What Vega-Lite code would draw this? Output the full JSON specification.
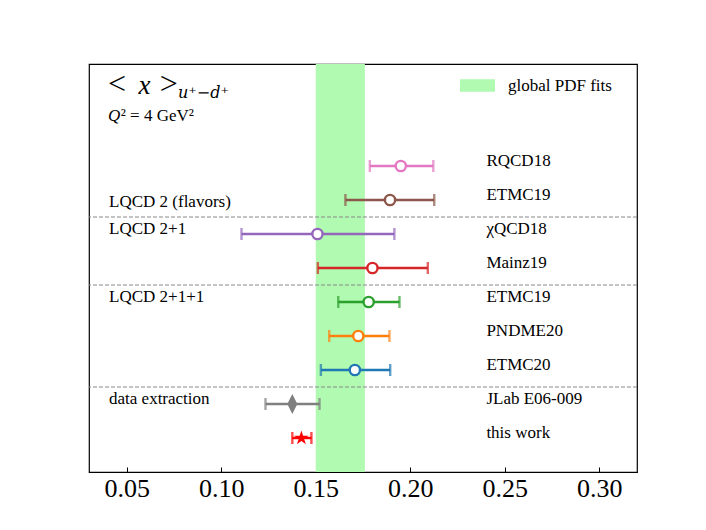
{
  "$schema": "https://vega.github.io/schema/vega-lite/v6.json",
  "width": 548,
  "height": 408,
  "padding": {"left": 88, "top": 64, "right": 70, "bottom": 10},
  "background": "white",
  "config": {
    "font": "Liberation Serif",
    "view": {"stroke": "black", "strokeWidth": 1.2},
    "axis": {
      "labelFont": "Liberation Serif",
      "labelFontSize": 26,
      "labelColor": "black",
      "domainColor": "black",
      "domainWidth": 1.2,
      "tickColor": "black",
      "tickWidth": 1,
      "tickSize": -5,
      "labelPadding": 8,
      "grid": false
    },
    "text": {"font": "Liberation Serif", "color": "black", "baseline": "alphabetic", "align": "left"}
  },
  "datasets": {
    "results": [
      {"row": 3, "label": "RQCD18", "value": 0.1950, "lo": 0.1786, "hi": 0.2122},
      {"row": 4, "label": "ETMC19", "value": 0.1893, "lo": 0.1657, "hi": 0.2127},
      {"row": 5, "label": "χQCD18", "value": 0.1509, "lo": 0.1107, "hi": 0.1916},
      {"row": 6, "label": "Mainz19", "value": 0.1800, "lo": 0.1511, "hi": 0.2093},
      {"row": 7, "label": "ETMC19", "value": 0.1780, "lo": 0.1619, "hi": 0.1943},
      {"row": 8, "label": "PNDME20", "value": 0.1725, "lo": 0.1571, "hi": 0.1890},
      {"row": 9, "label": "ETMC20", "value": 0.1707, "lo": 0.1527, "hi": 0.1894},
      {"row": 10, "label": "JLab E06-009", "value": 0.1376, "lo": 0.1234, "hi": 0.1520},
      {"row": 11, "label": "this work", "value": 0.1424, "lo": 0.1376, "hi": 0.1477}
    ],
    "separators": [{"row": 4.5}, {"row": 6.5}, {"row": 9.5}],
    "band": [{"lo": 0.150, "hi": 0.176, "label": "global PDF fits"}],
    "groups": [
      {"label": "LQCD 2 (flavors)", "row": 4.2},
      {"label": "LQCD 2+1", "row": 5},
      {"label": "LQCD 2+1+1", "row": 7},
      {"label": "data extraction", "row": 10}
    ]
  },
  "layer": [
    {
      "data": {"name": "band"},
      "mark": {"type": "rect"},
      "encoding": {
        "x": {"field": "lo", "type": "quantitative", "scale": {"domain": [0.03, 0.32], "nice": false, "zero": false}, "axis": {"values": [0.05, 0.10, 0.15, 0.20, 0.25, 0.30], "format": ".2f", "title": null}},
        "x2": {"field": "hi"},
        "fill": {"field": "label", "type": "nominal", "scale": {"range": ["#b1fab1"]},
          "legend": {"title": null, "orient": "none", "legendX": 376, "legendY": 9, "padding": 0,
            "symbolType": "M-1.4,-0.5H1.4V0.5H-1.4Z", "symbolSize": 625, "symbolStrokeWidth": 0, "symbolOpacity": 1,
            "labelFont": "Liberation Serif", "labelFontSize": 17, "labelColor": "black", "labelOffset": 18}}
      }
    },
    {
      "data": {"name": "separators"},
      "mark": {"type": "rule", "color": "#888888", "strokeWidth": 1, "strokeDash": [4, 2]},
      "encoding": {
        "y": {"field": "row", "type": "quantitative", "scale": {"domain": [0, 12], "reverse": true, "nice": false, "zero": false}, "axis": null}
      }
    },
    {
      "data": {"name": "results"},
      "mark": {"type": "rule", "strokeWidth": 2.4},
      "encoding": {
        "x": {"field": "lo", "type": "quantitative", "axis": {"values": [0.05, 0.10, 0.15, 0.20, 0.25, 0.30], "format": ".2f", "title": null}},
        "x2": {"field": "hi"},
        "y": {"field": "row", "type": "quantitative", "axis": null},
        "color": {"field": "row", "type": "ordinal", "scale": {"domain": [3, 4, 5, 6, 7, 8, 9, 10, 11], "range": ["#e377c2", "#8c564b", "#9467bd", "#d62728", "#2ca02c", "#ff7f0e", "#1f77b4", "#7f7f7f", "#ff0000"]}, "legend": null}
      }
    },
    {
      "data": {"name": "results"},
      "mark": {"type": "tick", "orient": "vertical", "size": 12, "thickness": 2.4},
      "encoding": {
        "x": {"field": "lo", "type": "quantitative", "axis": {"values": [0.05, 0.10, 0.15, 0.20, 0.25, 0.30], "format": ".2f", "title": null}},
        "y": {"field": "row", "type": "quantitative", "axis": null},
        "color": {"field": "row", "type": "ordinal", "legend": null}
      }
    },
    {
      "data": {"name": "results"},
      "mark": {"type": "tick", "orient": "vertical", "size": 12, "thickness": 2.4},
      "encoding": {
        "x": {"field": "hi", "type": "quantitative", "axis": {"values": [0.05, 0.10, 0.15, 0.20, 0.25, 0.30], "format": ".2f", "title": null}},
        "y": {"field": "row", "type": "quantitative", "axis": null},
        "color": {"field": "row", "type": "ordinal", "legend": null}
      }
    },
    {
      "data": {"name": "results"},
      "transform": [{"filter": "datum.row <= 9"}],
      "mark": {"type": "point", "shape": "circle", "size": 105, "filled": false, "fill": "white", "fillOpacity": 1, "strokeWidth": 2.4, "opacity": 1},
      "encoding": {
        "x": {"field": "value", "type": "quantitative", "axis": {"values": [0.05, 0.10, 0.15, 0.20, 0.25, 0.30], "format": ".2f", "title": null}},
        "y": {"field": "row", "type": "quantitative", "axis": null},
        "color": {"field": "row", "type": "ordinal", "legend": null}
      }
    },
    {
      "data": {"name": "results"},
      "transform": [{"filter": "datum.row == 10"}],
      "mark": {"type": "point", "shape": "M0,-1L0.5,0L0,1L-0.5,0Z", "size": 400, "filled": true, "opacity": 1, "strokeWidth": 0},
      "encoding": {
        "x": {"field": "value", "type": "quantitative", "axis": {"values": [0.05, 0.10, 0.15, 0.20, 0.25, 0.30], "format": ".2f", "title": null}},
        "y": {"field": "row", "type": "quantitative", "axis": null},
        "color": {"field": "row", "type": "ordinal", "legend": null}
      }
    },
    {
      "data": {"name": "results"},
      "transform": [{"filter": "datum.row == 11"}],
      "mark": {"type": "point", "shape": "M0,-1L0.2245,-0.309L0.951,-0.309L0.363,0.118L0.588,0.809L0,0.382L-0.588,0.809L-0.363,0.118L-0.951,-0.309L-0.2245,-0.309Z", "size": 230, "filled": true, "opacity": 1, "strokeWidth": 0},
      "encoding": {
        "x": {"field": "value", "type": "quantitative", "axis": {"values": [0.05, 0.10, 0.15, 0.20, 0.25, 0.30], "format": ".2f", "title": null}},
        "y": {"field": "row", "type": "quantitative", "axis": null},
        "color": {"field": "row", "type": "ordinal", "legend": null}
      }
    },
    {
      "data": {"name": "results"},
      "mark": {"type": "text", "fontSize": 17, "font": "Liberation Serif", "color": "black", "align": "left", "baseline": "alphabetic"},
      "encoding": {
        "x": {"datum": 0.2403, "type": "quantitative"},
        "y": {"field": "row", "type": "quantitative", "axis": null},
        "text": {"field": "label"}
      }
    },
    {
      "data": {"name": "groups"},
      "mark": {"type": "text", "fontSize": 17, "font": "Liberation Serif", "color": "black", "align": "left", "baseline": "alphabetic"},
      "encoding": {
        "x": {"datum": 0.0406, "type": "quantitative"},
        "y": {"field": "row", "type": "quantitative", "axis": null},
        "text": {"field": "label"}
      }
    },
    {
      "data": {"values": [{}]},
      "mark": {"type": "text", "text": "<", "fontSize": 32, "font": "Liberation Serif", "color": "black", "align": "left", "baseline": "alphabetic"},
      "encoding": {"x": {"datum": 0.0401, "type": "quantitative"}, "y": {"datum": 0.88, "type": "quantitative"}}
    },
    {
      "data": {"values": [{}]},
      "mark": {"type": "text", "text": "x", "fontSize": 27, "fontStyle": "italic", "font": "Liberation Serif", "color": "black", "align": "left", "baseline": "alphabetic"},
      "encoding": {"x": {"datum": 0.0562, "type": "quantitative"}, "y": {"datum": 0.88, "type": "quantitative"}}
    },
    {
      "data": {"values": [{}]},
      "mark": {"type": "text", "text": ">", "fontSize": 32, "font": "Liberation Serif", "color": "black", "align": "left", "baseline": "alphabetic"},
      "encoding": {"x": {"datum": 0.0674, "type": "quantitative"}, "y": {"datum": 0.88, "type": "quantitative"}}
    },
    {
      "data": {"values": [{}]},
      "mark": {"type": "text", "text": "u⁺−d⁺", "fontSize": 16, "fontStyle": "italic", "font": "DejaVu Serif", "color": "black", "align": "left", "baseline": "alphabetic"},
      "encoding": {"x": {"datum": 0.0771, "type": "quantitative"}, "y": {"datum": 1.01, "type": "quantitative"}}
    },
    {
      "data": {"values": [{}]},
      "mark": {"type": "text", "text": "Q", "fontSize": 17, "fontStyle": "italic", "font": "Liberation Serif", "color": "black", "align": "left", "baseline": "alphabetic"},
      "encoding": {"x": {"datum": 0.0401, "type": "quantitative"}, "y": {"datum": 1.68, "type": "quantitative"}}
    },
    {
      "data": {"values": [{}]},
      "mark": {"type": "text", "text": "² = 4 GeV²", "fontSize": 17, "font": "Liberation Serif", "color": "black", "align": "left", "baseline": "alphabetic"},
      "encoding": {"x": {"datum": 0.0468, "type": "quantitative"}, "y": {"datum": 1.68, "type": "quantitative"}}
    }
  ]
}
